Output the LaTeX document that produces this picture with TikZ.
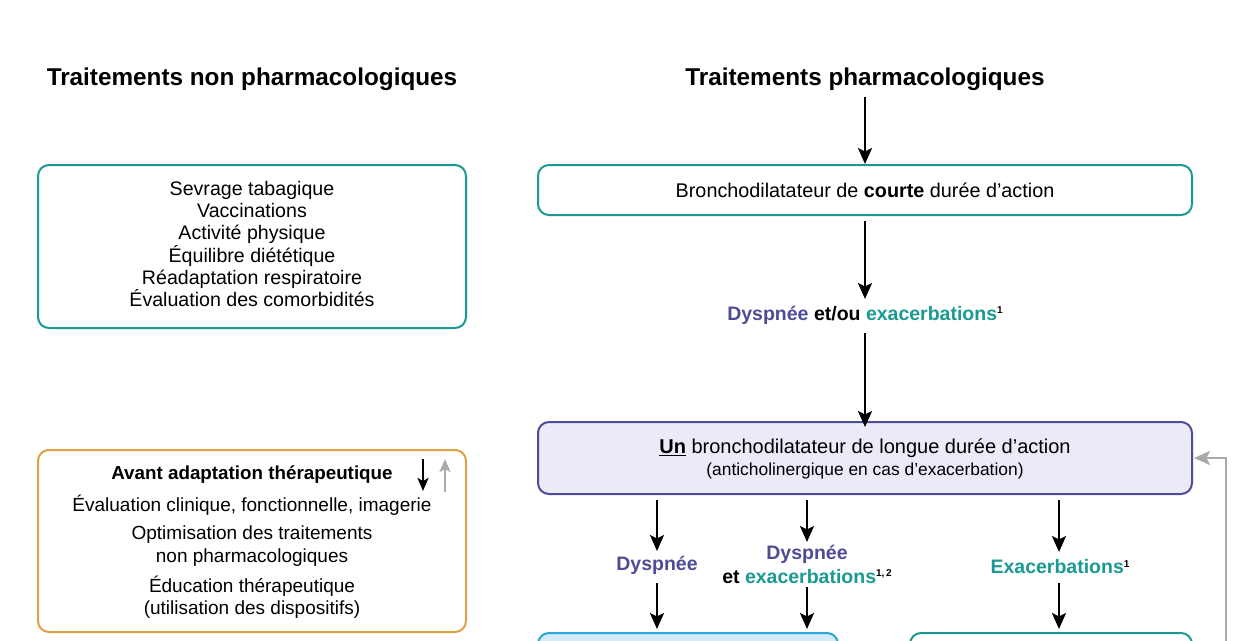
\documentclass[tikz,border=0pt]{standalone}
\usepackage{fontspec}
\setmainfont{Liberation Sans}
\usetikzlibrary{arrows.meta}
\definecolor{teal1}{RGB}{26,154,146}
\definecolor{purp}{RGB}{79,76,150}
\definecolor{lav}{RGB}{235,234,247}
\definecolor{orng}{RGB}{226,160,66}
\definecolor{blueb}{RGB}{40,168,220}
\definecolor{bluef}{RGB}{212,235,249}
\definecolor{grayl}{RGB}{170,170,170}
\newcommand{\supr}[1]{\raisebox{6.5pt}{\fontsize{10}{10}\selectfont\bfseries #1}}
\tikzset{
  box/.style={draw, line width=2pt, rounded corners=11pt, inner sep=0pt},
  txt/.style={font=\fontsize{19}{22.3}\selectfont, align=center, inner sep=0pt},
  ttl/.style={font=\fontsize{24.3}{28}\selectfont\bfseries, inner sep=0pt},
  lbl/.style={font=\fontsize{19.5}{24}\selectfont\bfseries, align=center, inner sep=0pt},
  arr/.style={line width=2.5pt, -{Stealth[length=16pt,width=14pt,inset=3.5pt]}},
  garr/.style={line width=2.5pt, grayl, -{Stealth[length=16pt,width=14pt,inset=3.5pt]}},
}
\begin{document}
\begin{tikzpicture}[x=1pt,y=-1pt]
\useasboundingbox (0,0) rectangle (1242,640);
\fill[white] (0,0) rectangle (1242,640);

% titles
\node[ttl] (tl) at (252,79) {Traitements non pharmacologiques};
\node[ttl] (tr) at (865,79) {Traitements pharmacologiques};

% left boxes
\node[box, draw=teal1, minimum width=428pt, minimum height=163pt] (la) at (252,246.5) {};
\node[txt, font=\fontsize{19.6}{22.2}\selectfont] at (252,244) {Sevrage tabagique\\Vaccinations\\Activité physique\\Équilibre diététique\\Réadaptation respiratoire\\Évaluation des comorbidités};

\node[box, draw=orng, minimum width=428pt, minimum height=182pt] (lb) at (252,541) {};
\node[txt, font=\fontsize{18.8}{22}\selectfont\bfseries] (lbt) at (252,475) {Avant adaptation thérapeutique};
\node[txt] (lb1) at (252,505) {Évaluation clinique, fonctionnelle, imagerie};
\node[txt] (lb2) at (252,546) {Optimisation des traitements\\non pharmacologiques};
\node[txt] (lb3) at (252,597) {Éducation thérapeutique\\(utilisation des dispositifs)};
\coordinate (da1) at (423,459);
\coordinate (da2) at (423,491);
\coordinate (ua1) at (445,492);
\coordinate (ua2) at (445,459);
\draw[line width=2.4pt, -{Stealth[length=13pt,width=11pt,inset=3pt]}] (da1) -- (da2);
\draw[line width=2.4pt, grayl, -{Stealth[length=13pt,width=11pt,inset=3pt]}] (ua1) -- (ua2);

% right column
\node[box, draw=teal1, minimum width=654pt, minimum height=50pt] (b1) at (865,190) {};
\node[txt, font=\fontsize{19.8}{22.3}\selectfont] at (b1.center) {Bronchodilatateur de \textbf{courte} durée d’action};

\node[lbl] (l1) at (865,315) {\textcolor{purp}{Dyspnée} et/ou \textcolor{teal1}{exacerbations}\supr{1}};

\node[box, draw=purp, fill=lav, minimum width=654pt, minimum height=72pt] (b2) at (865,458) {};
\node[txt, font=\fontsize{20}{22.3}\selectfont] (b2a) at (865,448) {\underline{\textbf{Un}} bronchodilatateur de longue durée d’action};
\node[txt, font=\fontsize{17.4}{20}\selectfont] (b2b) at (865,471) {(anticholinergique en cas d’exacerbation)};

\node[box, draw=blueb, fill=bluef, minimum width=300pt, minimum height=70pt] (b3) at (688,668) {};
\node[box, draw=teal1, minimum width=282pt, minimum height=70pt] (b4) at (1051,668) {};

\node[lbl, text=purp] (l2) at (657,565) {Dyspnée};
\node[lbl] (l3) at (807,564) {\textcolor{purp}{Dyspnée}\\et \textcolor{teal1}{exacerbations}\supr{1,\,2}};
\node[lbl] (l4) at (1060,567) {\textcolor{teal1}{Exacerbations}\supr{1}};

% arrows
\draw[arr] (tr.south |- 0,97) -- (b1.north);
\draw[arr] ([yshift=-5pt]b1.south) -- (865,299);
\draw[arr] (865,333) -- ([yshift=-6pt]b2.north);

\draw[arr] (657,500) -- (657,551);
\draw[arr] (657,583) -- (657,629);
\draw[arr] (807,500) -- (807,542);
\draw[arr] (807,587) -- (807,629);
\draw[arr] (1059,500) -- (1059,552);
\draw[arr] (1059,583) -- (1059,629);

% feedback loop
\coordinate (lp) at (1226,660);
\draw[garr] (lp) |- ([xshift=1pt]b2.east);
\end{tikzpicture}
\end{document}
